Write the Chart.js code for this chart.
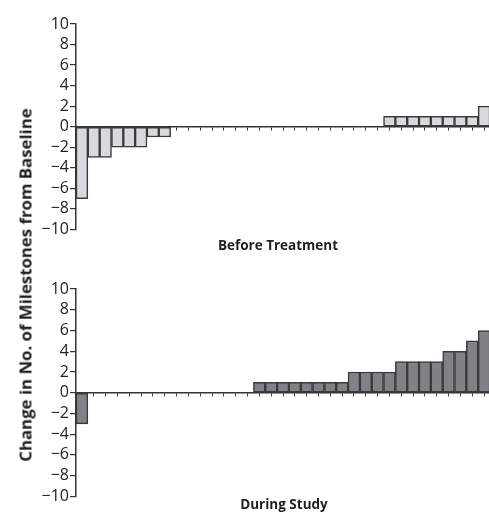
<!DOCTYPE html>
<html>
<head>
<meta charset="utf-8">
<script src="https://cdn.jsdelivr.net/npm/chart.js@4.4.1/dist/chart.umd.min.js"></script>
<style>
body { margin: 0; width: 489px; height: 514px; overflow: hidden; background: #fff; position: relative; font-family: "Open Sans", sans-serif; color: #1e1e1e; }
canvas { position: absolute; left: 0; }
#c1 { top: 0; }
#c2 { top: 265px; }
.lbl { position: absolute; font-weight: 700; font-size: 13.5px; white-space: nowrap; transform: translate(-50%, -50%); }
#ytitle { left: 25px; top: 285px; font-size: 16.8px; transform: translate(-50%, -50%) rotate(-90deg); }
</style>
</head>
<body>
<canvas id="c1" width="491" height="240"></canvas>
<canvas id="c2" width="491" height="242"></canvas>
<div class="lbl" id="ytitle">Change in No. of Milestones from Baseline</div>
<div class="lbl" style="left:278px;top:245px">Before Treatment</div>
<div class="lbl" style="left:284px;top:504px">During Study</div>
<script>
// one bar per patient, sorted
var patients = [];
for (var i = 1; i <= 35; i++) patients.push(i);

var beforeTreatment = [-7, -3, -3, -2, -2, -2, -1, -1,
  0, 0, 0, 0, 0, 0, 0, 0, 0, 0, 0, 0, 0, 0, 0, 0, 0, 0,
  1, 1, 1, 1, 1, 1, 1, 1, 2];
var duringStudy = [-3,
  0, 0, 0, 0, 0, 0, 0, 0, 0, 0, 0, 0, 0, 0,
  1, 1, 1, 1, 1, 1, 1, 1, 2, 2, 2, 2, 3, 3, 3, 3, 4, 4, 5, 6];

function makeChart(id, values, fill, padBottom) {
  var ctx = document.getElementById(id).getContext("2d");
  return new Chart(ctx, {
    type: 'bar',
    data: {
      labels: patients,
      datasets: [{
        data: values,
        backgroundColor: fill,
        borderColor: '#3a3a3a',
        borderWidth: 1.5,
        borderSkipped: false,
        barPercentage: 1,
        categoryPercentage: 1
      }]
    },
    options: {
      responsive: false,
      animation: false,
      layout: { padding: { top: 24, bottom: padBottom, left: 0, right: 1 } },
      plugins: { legend: { display: false }, tooltip: { enabled: false } },
      scales: {
        x: {
          position: { y: 0 },
          z: 1,
          grid: { drawOnChartArea: false, offset: false, tickLength: 3, color: '#333', lineWidth: 1 },
          border: { color: '#333', width: 1.5 },
          ticks: { display: false, autoSkip: false }
        },
        y: {
          min: -10, max: 10,
          afterFit: function (s) { s.width = 76; },
          grid: { drawOnChartArea: false, tickLength: 6, color: '#333', lineWidth: 1.2 },
          border: { color: '#333', width: 1.5 },
          ticks: {
            stepSize: 2, padding: 1, color: '#222', autoSkip: false,
            font: { family: 'Open Sans', size: 16 },
            callback: function (v) { return v < 0 ? '\u2212' + (-v) : '' + v; }
          }
        }
      }
    }
  });
}

makeChart('c1', beforeTreatment, '#d9d9dd', 8.5);
makeChart('c2', duringStudy, '#808285', 9.5);
</script>
</body>
</html>
